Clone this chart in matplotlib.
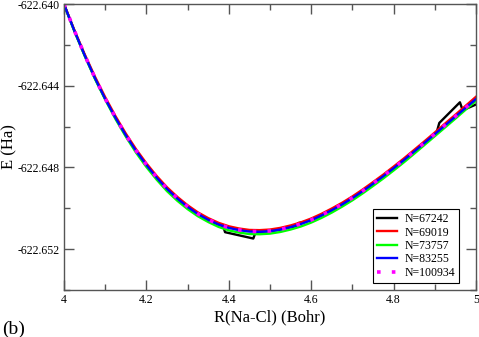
import numpy as np
import matplotlib
matplotlib.use('Agg')
import matplotlib.pyplot as plt
from matplotlib.ticker import MultipleLocator, FormatStrFormatter, FuncFormatter

plt.rcParams['font.family'] = ['Liberation Serif', 'DejaVu Serif']

# distances R(Na-Cl) in Bohr
R = [4.000, 4.025, 4.050, 4.075, 4.100, 4.125, 4.150, 4.175, 4.200, 4.225,
     4.250, 4.275, 4.300, 4.325, 4.350, 4.375, 4.400, 4.425, 4.450, 4.475,
     4.500, 4.525, 4.550, 4.575, 4.600, 4.625, 4.650, 4.675, 4.700, 4.725,
     4.750, 4.775, 4.800, 4.825, 4.850, 4.875, 4.900, 4.925, 4.950, 4.975, 5.000]

# energies (Ha) for each grid size
E_69019 = [-622.64000, -622.64127, -622.64245, -622.64355, -622.64456, -622.64549,
           -622.64634, -622.64711, -622.64780, -622.64842, -622.64897, -622.64944,
           -622.64985, -622.65020, -622.65048, -622.65071, -622.65088, -622.65099,
           -622.65106, -622.65107, -622.65104, -622.65096, -622.65084, -622.65069,
           -622.65050, -622.65027, -622.65001, -622.64973, -622.64942, -622.64908,
           -622.64872, -622.64835, -622.64796, -622.64756, -622.64714, -622.64672,
           -622.64629, -622.64585, -622.64542, -622.64498, -622.64454]
E_73757 = [-622.64003, -622.64132, -622.64253, -622.64366, -622.64468, -622.64563,
           -622.64649, -622.64728, -622.64798, -622.64860, -622.64916, -622.64963,
           -622.65004, -622.65039, -622.65067, -622.65091, -622.65108, -622.65119,
           -622.65126, -622.65127, -622.65124, -622.65116, -622.65104, -622.65089,
           -622.65070, -622.65047, -622.65021, -622.64992, -622.64961, -622.64927,
           -622.64891, -622.64854, -622.64815, -622.64775, -622.64733, -622.64690,
           -622.64647, -622.64604, -622.64561, -622.64517, -622.64474]
E_83255 = [-622.64001, -622.64130, -622.64250, -622.64362, -622.64464, -622.64557,
           -622.64642, -622.64719, -622.64788, -622.64850, -622.64905, -622.64952,
           -622.64993, -622.65028, -622.65056, -622.65079, -622.65096, -622.65107,
           -622.65114, -622.65115, -622.65112, -622.65104, -622.65092, -622.65077,
           -622.65058, -622.65035, -622.65009, -622.64981, -622.64950, -622.64916,
           -622.64880, -622.64843, -622.64804, -622.64764, -622.64722, -622.64680,
           -622.64637, -622.64594, -622.64551, -622.64508, -622.64465]
E_100934 = [-622.64000, -622.64129, -622.64249, -622.64361, -622.64463, -622.64556,
            -622.64641, -622.64718, -622.64787, -622.64849, -622.64904, -622.64951,
            -622.64992, -622.65027, -622.65055, -622.65078, -622.65095, -622.65106,
            -622.65113, -622.65114, -622.65111, -622.65103, -622.65091, -622.65076,
            -622.65057, -622.65034, -622.65008, -622.64980, -622.64949, -622.64915,
            -622.64879, -622.64842, -622.64803, -622.64763, -622.64721, -622.64679,
            -622.64636, -622.64593, -622.64550, -622.64507, -622.64464]

# N=67242 has a few jumps, so it gets its own R points
R_67242 = [4.000, 4.025, 4.050, 4.075, 4.100, 4.125, 4.150, 4.175, 4.200, 4.225,
           4.250, 4.275, 4.300, 4.325, 4.350, 4.375, 4.386, 4.391, 4.4595, 4.4636,
           4.475, 4.500, 4.525, 4.550, 4.567, 4.569, 4.575, 4.600, 4.625, 4.650,
           4.675, 4.700, 4.725, 4.750, 4.775, 4.800, 4.825, 4.850, 4.875, 4.900,
           4.9045, 4.911, 4.961, 4.9677, 5.000]
E_67242 = [-622.64001, -622.64130, -622.64250, -622.64362, -622.64464, -622.64557,
           -622.64642, -622.64719, -622.64788, -622.64850, -622.64905, -622.64952,
           -622.64993, -622.65028, -622.65056, -622.65079, -622.65087, -622.65117,
           -622.65148, -622.65125, -622.65115, -622.65112, -622.65104, -622.65092,
           -622.65088, -622.65072, -622.65070, -622.65058, -622.65035, -622.65009,
           -622.64981, -622.64950, -622.64916, -622.64880, -622.64843, -622.64804,
           -622.64764, -622.64722, -622.64680, -622.64637, -622.64629, -622.64582,
           -622.64481, -622.64520, -622.64492]

fig = plt.figure(figsize=(4.79, 3.37), dpi=100)
ax = fig.add_axes([0.1336, 0.1395, 0.8601, 0.8485])

ax.plot(R_67242, E_67242, color='black', lw=1.7, label='N=67242')
ax.plot(R, E_69019, color='red', lw=1.7, label='N=69019')
ax.plot(R, E_73757, color='#00ff00', lw=1.7, label='N=73757')
ax.plot(R, E_83255, color='blue', lw=1.7, label='N=83255')
ax.plot(R, E_100934, color='magenta', lw=2.6, ls=(0, (1, 3.1)), label='N=100934')

ax.set_xlim(4, 5)
ax.set_ylim(-622.654, -622.640)
ax.xaxis.set_major_locator(MultipleLocator(0.2))
ax.xaxis.set_minor_locator(MultipleLocator(0.1))
ax.yaxis.set_major_locator(MultipleLocator(0.004))
ax.yaxis.set_minor_locator(MultipleLocator(0.002))
ax.xaxis.set_major_formatter(FuncFormatter(lambda v, p: '%g' % round(v, 2)))
ax.yaxis.set_major_formatter(FormatStrFormatter('%.3f'))
ax.tick_params(which='both', direction='in', top=True, right=True,
               color='#555555', labelsize=8.5, pad=3)
ax.tick_params(which='major', length=7, width=1)
ax.tick_params(which='minor', length=4, width=1)
for s in ax.spines.values():
    s.set_color('#555555')
    s.set_linewidth(1)

ax.set_xlabel('R(Na-Cl) (Bohr)', fontsize=12, labelpad=2)
ax.set_ylabel('E (Ha)', fontsize=12)
ax.yaxis.set_label_coords(-0.112, 0.5)

leg = ax.legend(loc='upper left', bbox_to_anchor=(0.75, 0.283), borderaxespad=0,
                fontsize=8.5, fancybox=False, framealpha=1, edgecolor='black',
                handlelength=1.7, labelspacing=0.12, borderpad=0.35, handletextpad=0.6)
leg.get_frame().set_linewidth(0.8)

fig.text(0.004, 0.008, '(b)', fontsize=14)

fig.savefig('out.png', dpi=100)
